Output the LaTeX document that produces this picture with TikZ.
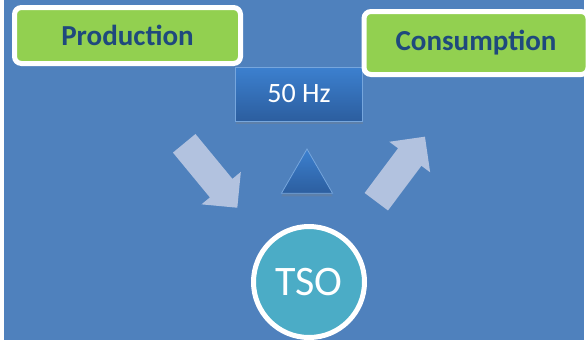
\documentclass[tikz,border=0pt]{standalone}
\usepackage{fontspec}
\setmainfont{Carlito}
\usetikzlibrary{shapes.geometric,shadows}

\definecolor{slide}{HTML}{4F81BD}
\definecolor{leaf}{HTML}{92D050}
\definecolor{ink}{HTML}{1F497D}
\definecolor{sea}{HTML}{4BACC6}
\definecolor{pale}{HTML}{B2C2DF}
\definecolor{hitop}{HTML}{3C80CF}
\definecolor{hibot}{HTML}{2C5E9F}

%% block arrow: tail centre, angle, length
\newcommand\FlowArrow[3]{%
  \fill[pale, shift={(#1)}, rotate=#2]
    (0,-14.6) -- (#3-25.4,-14.6) -- (#3-25.4,-25.5) -- (#3,0)
    -- (#3-25.4,25.5) -- (#3-25.4,14.6) -- (0,14.6) -- cycle;}

\tikzset{
  greenbox/.style={rectangle, draw=white, line width=5pt, rounded corners=7pt,
    fill=leaf, text=ink, font=\fontsize{29}{31}\selectfont\bfseries},
  bluebox/.style={draw=hitop!70!white, line width=0.8pt, top color=hitop,
    bottom color=hibot, text=white,
    drop shadow={opacity=0.3, shadow xshift=0pt, shadow yshift=-3pt}}
}

\begin{document}
\begin{tikzpicture}[x=1pt, y=-1pt]

  \useasboundingbox (0,0) rectangle (588,340);
  \fill[slide] (4,0) rectangle (584,340);

  %% flow arrows
  \FlowArrow{184.2,143.3}{-50.5}{83.5}
  \FlowArrow{376.3,201.7}{53.2}{81.2}

  %% balance mark
  \node[bluebox, regular polygon, regular polygon sides=3, inner sep=0pt,
    minimum size=59pt] (mark) at (307,178.5) {};

  \node[bluebox, rectangle, minimum width=127pt, minimum height=54pt,
    font=\fontsize{28}{30}\selectfont] (freq) at (299,94) {50 Hz};

  \node[greenbox, minimum width=226pt, minimum height=56pt] (prod) at (127.5,35.5) {Production};
  \node[greenbox, minimum width=224pt, minimum height=63pt] (cons) at (476,43) {Consumption};

  \node[circle, draw=white, line width=5pt, fill=sea, minimum size=111pt, inner sep=0pt,
    text=white, font=\fontsize{42}{44}\selectfont] (tso) at (309,282) {TSO};

\end{tikzpicture}
\end{document}
